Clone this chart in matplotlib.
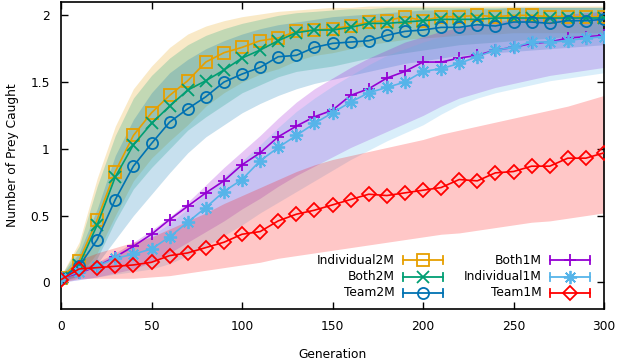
import numpy as np
import matplotlib
matplotlib.use("Agg")
import matplotlib.pyplot as plt
from matplotlib.lines import Line2D

plt.rcParams['font.family'] = ['DejaVu Sans']
FS = 8.8

gens = list(range(0, 301, 10))

names = ["Individual2M", "Both2M", "Team2M", "Both1M", "Individual1M", "Team1M"]
colors = ["#e69f00", "#009e73", "#0072b2", "#9400d3", "#56b4e9", "#ff0000"]
markers = ["s", "x", "o", "+", (8, 2, 0), "D"]
msizes = [8, 8.5, 8, 9, 9.5, 7.5]

ind2 = [0.03, 0.16, 0.47, 0.83, 1.10, 1.27, 1.40, 1.51, 1.65, 1.72, 1.76, 1.81, 1.83, 1.88, 1.89, 1.90,
        1.92, 1.95, 1.96, 1.99, 1.96, 1.99, 1.99, 2.00, 1.99, 2.00, 2.00, 1.99, 1.99, 1.99, 1.99]
both2 = [0.03, 0.13, 0.43, 0.79, 1.03, 1.19, 1.32, 1.44, 1.51, 1.59, 1.68, 1.74, 1.81, 1.87, 1.89, 1.89,
         1.91, 1.94, 1.94, 1.95, 1.96, 1.97, 1.97, 1.97, 1.98, 1.98, 1.98, 1.98, 1.98, 1.98, 1.98]
team2 = [0.03, 0.12, 0.32, 0.62, 0.87, 1.04, 1.20, 1.30, 1.39, 1.50, 1.56, 1.61, 1.69, 1.70, 1.76, 1.79,
         1.80, 1.81, 1.85, 1.88, 1.89, 1.91, 1.91, 1.93, 1.92, 1.95, 1.95, 1.94, 1.96, 1.96, 1.97]
both1 = [0.03, 0.07, 0.12, 0.19, 0.27, 0.36, 0.47, 0.57, 0.67, 0.76, 0.88, 0.97, 1.09, 1.17, 1.24, 1.29,
         1.40, 1.45, 1.53, 1.58, 1.65, 1.65, 1.68, 1.70, 1.74, 1.76, 1.79, 1.80, 1.83, 1.84, 1.85]
ind1 = [0.03, 0.08, 0.12, 0.18, 0.21, 0.25, 0.34, 0.45, 0.56, 0.68, 0.77, 0.91, 1.01, 1.10, 1.19, 1.27,
        1.35, 1.42, 1.46, 1.50, 1.58, 1.60, 1.64, 1.69, 1.74, 1.76, 1.80, 1.80, 1.81, 1.83, 1.84]
team1 = [0.02, 0.10, 0.11, 0.12, 0.13, 0.15, 0.20, 0.22, 0.26, 0.30, 0.36, 0.38, 0.46, 0.51, 0.54, 0.58,
         0.62, 0.66, 0.65, 0.67, 0.69, 0.71, 0.77, 0.76, 0.82, 0.83, 0.87, 0.87, 0.93, 0.93, 0.97]

ind2_hi = [0.05, 0.30, 0.78, 1.17, 1.45, 1.62, 1.76, 1.86, 1.92, 1.96, 1.99, 2.01, 2.03, 2.04, 2.05, 2.06,
           2.06, 2.07, 2.07, 2.07, 2.07, 2.07, 2.07, 2.07, 2.07, 2.07, 2.07, 2.07, 2.07, 2.07, 2.07]
ind2_lo = [0.01, 0.05, 0.22, 0.50, 0.76, 0.93, 1.06, 1.18, 1.32, 1.42, 1.50, 1.56, 1.60, 1.66, 1.70, 1.72,
           1.75, 1.78, 1.80, 1.82, 1.83, 1.84, 1.85, 1.86, 1.86, 1.87, 1.87, 1.87, 1.87, 1.87, 1.87]
both2_hi = [0.05, 0.27, 0.72, 1.10, 1.38, 1.55, 1.68, 1.78, 1.85, 1.90, 1.94, 1.97, 2.00, 2.02, 2.03, 2.04,
            2.05, 2.05, 2.06, 2.06, 2.06, 2.06, 2.06, 2.06, 2.06, 2.06, 2.06, 2.06, 2.06, 2.06, 2.06]
both2_lo = [0.01, 0.04, 0.18, 0.46, 0.70, 0.86, 1.00, 1.14, 1.24, 1.33, 1.42, 1.48, 1.54, 1.58, 1.60, 1.62,
            1.65, 1.68, 1.70, 1.72, 1.74, 1.76, 1.78, 1.79, 1.80, 1.81, 1.82, 1.83, 1.84, 1.85, 1.86]
team2_hi = [0.05, 0.22, 0.55, 0.95, 1.22, 1.42, 1.57, 1.67, 1.75, 1.81, 1.86, 1.90, 1.93, 1.95, 1.97, 1.99,
            2.00, 2.01, 2.02, 2.03, 2.04, 2.04, 2.05, 2.05, 2.05, 2.06, 2.06, 2.06, 2.06, 2.06, 2.06]
team2_lo = [0.01, 0.05, 0.14, 0.32, 0.50, 0.66, 0.82, 0.97, 1.09, 1.18, 1.27, 1.34, 1.40, 1.45, 1.49, 1.52,
            1.55, 1.58, 1.61, 1.64, 1.66, 1.68, 1.70, 1.71, 1.72, 1.73, 1.74, 1.75, 1.76, 1.77, 1.78]
both1_hi = [0.05, 0.10, 0.15, 0.22, 0.30, 0.39, 0.49, 0.60, 0.73, 0.86, 0.98, 1.10, 1.23, 1.35, 1.45, 1.53,
            1.61, 1.68, 1.74, 1.80, 1.84, 1.88, 1.91, 1.93, 1.95, 1.97, 1.99, 2.00, 2.01, 2.02, 2.03]
both1_lo = [0.00, 0.02, 0.04, 0.07, 0.10, 0.15, 0.22, 0.30, 0.38, 0.46, 0.55, 0.63, 0.72, 0.80, 0.87, 0.94,
            1.01, 1.07, 1.13, 1.19, 1.25, 1.32, 1.38, 1.42, 1.46, 1.49, 1.52, 1.55, 1.57, 1.59, 1.61]
ind1_hi = [0.05, 0.10, 0.15, 0.20, 0.27, 0.35, 0.44, 0.55, 0.67, 0.79, 0.91, 1.03, 1.16, 1.28, 1.38, 1.47,
           1.55, 1.63, 1.70, 1.75, 1.80, 1.84, 1.88, 1.91, 1.93, 1.95, 1.97, 1.98, 1.99, 2.00, 2.01]
ind1_lo = [0.00, 0.02, 0.04, 0.06, 0.08, 0.10, 0.14, 0.20, 0.27, 0.35, 0.43, 0.52, 0.60, 0.68, 0.76, 0.84,
           0.92, 0.99, 1.06, 1.12, 1.18, 1.26, 1.33, 1.38, 1.42, 1.45, 1.48, 1.51, 1.53, 1.55, 1.57]
team1_hi = [0.05, 0.17, 0.22, 0.26, 0.30, 0.34, 0.40, 0.46, 0.52, 0.59, 0.65, 0.71, 0.77, 0.83, 0.88, 0.92,
            0.95, 0.98, 1.01, 1.04, 1.07, 1.11, 1.14, 1.17, 1.20, 1.23, 1.26, 1.29, 1.32, 1.36, 1.40]
team1_lo = [0.00, 0.03, 0.03, 0.03, 0.03, 0.04, 0.05, 0.07, 0.09, 0.11, 0.13, 0.15, 0.18, 0.20, 0.22, 0.24,
            0.26, 0.28, 0.30, 0.32, 0.34, 0.36, 0.37, 0.39, 0.41, 0.43, 0.45, 0.46, 0.48, 0.50, 0.52]

means = [ind2, both2, team2, both1, ind1, team1]
his = [ind2_hi, both2_hi, team2_hi, both1_hi, ind1_hi, team1_hi]
los = [ind2_lo, both2_lo, team2_lo, both1_lo, ind1_lo, team1_lo]

W, H = 618, 360
fig = plt.figure(figsize=(W / 100, H / 100), dpi=100)
L, R, T, B = 61, 604, 2, 309
ax = fig.add_axes([L / W, 1 - B / H, (R - L) / W, (B - T) / H])

for m, hi, lo, c, mk, ms in zip(means, his, los, colors, markers, msizes):
    ax.fill_between(gens, lo, hi, color=c, alpha=0.22, linewidth=0, zorder=2)
    ax.plot(gens, m, color=c, lw=1.2, marker=mk, ms=ms, mfc="none", mew=1.3, zorder=3)

ax.set_xlim(0, 300)
ax.set_ylim(-0.2, 2.1)
ax.set_xticks([0, 50, 100, 150, 200, 250, 300])
ax.set_yticks([0, 0.5, 1, 1.5, 2])
ax.set_yticklabels(["0", "0.5", "1", "1.5", "2"])
ax.tick_params(direction="in", length=5, width=1, top=True, right=True, labelsize=FS, pad=8, colors="black")
for s in ax.spines.values():
    s.set_linewidth(1.2)
ax.set_xlabel("Generation", fontsize=FS, labelpad=10.5)
ax.set_ylabel("Number of Prey Caught", fontsize=FS, labelpad=8)


def fx(px):
    return px / W


def fy(py):
    return 1 - py / H


rows = [260, 276.5, 293]
cols = [(395, 403, 443), (542, 550, 590)]
for i, (n, c, mk, ms) in enumerate(zip(names, colors, markers, msizes)):
    col = cols[i // 3]
    py = rows[i % 3]
    fig.text(fx(col[0]), fy(py), n, ha="right", va="center", fontsize=FS)
    x0, x1 = col[1], col[2]
    fig.add_artist(Line2D([fx(x0), fx(x1)], [fy(py), fy(py)], color=c, lw=1.3, transform=fig.transFigure))
    for xc in (x0, x1):
        fig.add_artist(Line2D([fx(xc), fx(xc)], [fy(py - 4), fy(py + 4)], color=c, lw=1.3,
                              transform=fig.transFigure))
    fig.add_artist(Line2D([fx((x0 + x1) / 2)], [fy(py)], color=c, marker=mk, ms=ms, mfc="none", mew=1.3,
                          lw=0, transform=fig.transFigure))

fig.savefig("out.png", dpi=100)
